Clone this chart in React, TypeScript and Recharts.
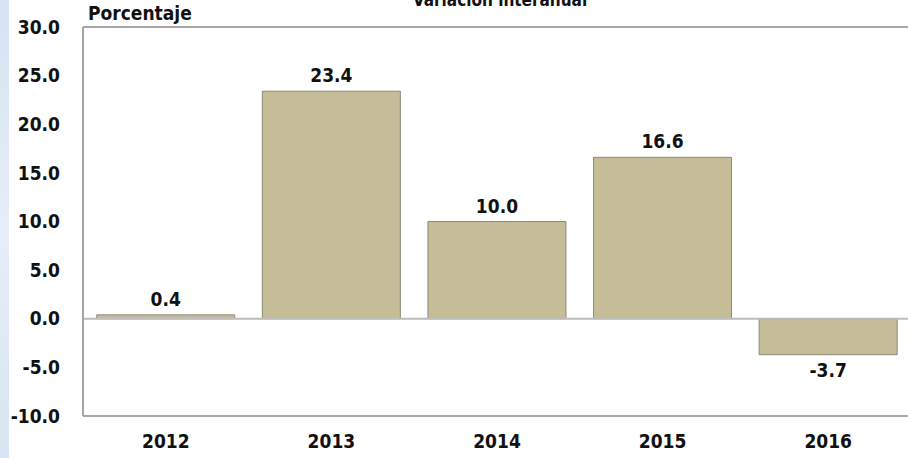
import { BarChart, Bar, XAxis, YAxis, ReferenceLine, LabelList } from 'recharts'

const years = ['2012', '2013', '2014', '2015', '2016']
const variacion = [0.4, 23.4, 10.0, 16.6, -3.7]
const yTicks = [-10, -5, 0, 5, 10, 15, 20, 25, 30]

const data = years.map((year, i) => ({ year, value: variacion[i] }))

const FONT = '"DejaVu Sans Condensed", "DejaVu Sans", sans-serif'

export default function App() {
  return (
    <div
      style={{
        position: 'absolute',
        left: 0,
        top: 0,
        width: 908,
        height: 458,
        overflow: 'hidden',
        background: '#ffffff',
        fontFamily: FONT,
      }}
    >
      <div
        style={{
          position: 'absolute',
          left: 0,
          top: 0,
          width: 9,
          height: 458,
          background: 'linear-gradient(180deg, #d6e3f2 0%, #e6eef7 50%, #d9e5f2 100%)',
        }}
      />
      <div
        style={{
          position: 'absolute',
          left: 500,
          top: -10,
          transform: 'translateX(-50%)',
          fontWeight: 'bold',
          fontSize: 17,
          color: '#111',
          whiteSpace: 'nowrap',
        }}
      >
        Variación interanual
      </div>
      <div
        style={{
          position: 'absolute',
          left: 88,
          top: 2,
          fontWeight: 'bold',
          fontSize: 19,
          color: '#111',
        }}
      >
        Porcentaje
      </div>
      <BarChart
        width={911}
        height={458}
        data={data}
        margin={{ top: 27, right: 0, bottom: 0, left: 0 }}
        barCategoryGap="8.3%"
        style={{ position: 'absolute', left: 0, top: 0 }}
      >
        <XAxis
          dataKey="year"
          height={42}
          axisLine={{ stroke: '#a6a6a6', strokeWidth: 2 }}
          tickLine={false}
          tickMargin={13}
          tick={{ fill: '#111', fontSize: 19, fontWeight: 'bold', fontFamily: FONT }}
        />
        <YAxis
          width={83}
          domain={[-10, 30]}
          ticks={yTicks}
          interval={0}
          allowDataOverflow
          tickFormatter={(v: number) => v.toFixed(1)}
          axisLine={{ stroke: '#a6a6a6', strokeWidth: 2 }}
          tickLine={false}
          tickMargin={17}
          tick={{ fill: '#111', fontSize: 19, fontWeight: 'bold', fontFamily: FONT }}
        />
        <ReferenceLine y={30} stroke="#a6a6a6" strokeWidth={2} />
        <ReferenceLine y={0} stroke="#bdbdbd" strokeWidth={2} />
        <Bar dataKey="value" fill="#c4bd97" stroke="#8c8a78" strokeWidth={1} isAnimationActive={false}>
          <LabelList
            dataKey="value"
            position="top"
            offset={9}
            formatter={(v: number) => v.toFixed(1)}
            style={{ fill: '#111', fontSize: 19, fontWeight: 'bold', fontFamily: FONT }}
          />
        </Bar>
      </BarChart>
    </div>
  )
}
